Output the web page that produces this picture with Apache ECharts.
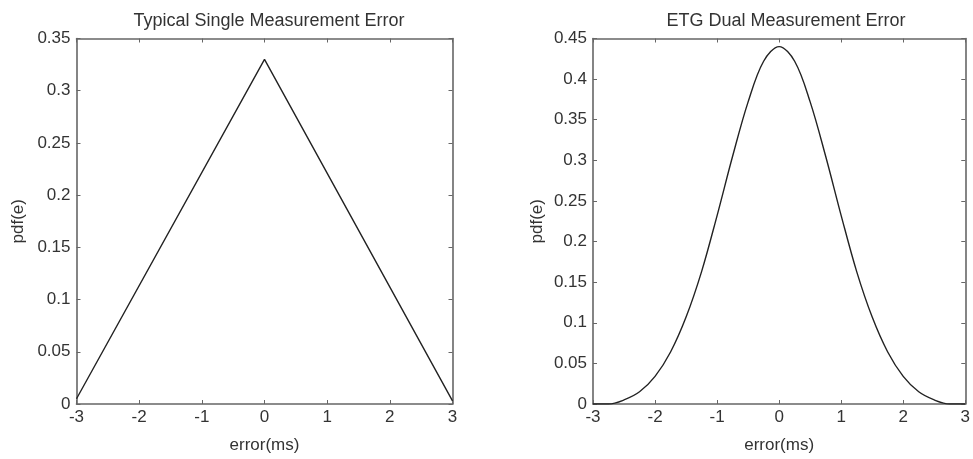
<!DOCTYPE html>
<html>
<head>
<meta charset="utf-8">
<script src="https://cdn.jsdelivr.net/npm/echarts@6/dist/echarts.min.js"></script>
<style>
html,body{margin:0;padding:0;background:#fff;}
#c{width:973px;height:459px;}
</style>
</head>
<body>
<div id="c"></div>
<script>
// Left chart: Typical Single Measurement Error
const singleX = [-3, 0, 3];
const singleY = [0.005, 0.33, 0.003];
// Right chart: ETG Dual Measurement Error
const dualX = [-3, -2.75, -2.5, -2.25, -2, -1.75, -1.5, -1.25, -1, -0.75, -0.5, -0.25, 0,
               0.25, 0.5, 0.75, 1, 1.25, 1.5, 1.75, 2, 2.25, 2.5, 2.75, 3];
const dualY = [0, 0, 0.005, 0.015, 0.034, 0.064, 0.107, 0.163, 0.232, 0.305, 0.372, 0.422, 0.44,
               0.422, 0.372, 0.305, 0.232, 0.163, 0.107, 0.064, 0.034, 0.015, 0.005, 0, 0];
const titles = ['Typical Single Measurement Error', 'ETG Dual Measurement Error'];
const xTicks = [-3, -2, -1, 0, 1, 2, 3];
const yMaxLeft = 0.35, yMaxRight = 0.45, yStep = 0.05;
const xLabel = 'error(ms)', yLabel = 'pdf(e)';

const FONT = 'Liberation Sans, Arial, sans-serif';
const TXT = '#333';
const AX = '#666';

function pair(a, b) { return a.map((v, i) => [v, b[i]]); }

const grids = [
  {left: 76.5, top: 38.5, width: 376, height: 370.5},
  {left: 593, top: 38.5, width: 377, height: 370.5}
];

function xAx(gi, pos, labels) {
  return {
    type: 'value', gridIndex: gi, position: pos,
    min: xTicks[0], max: xTicks[xTicks.length - 1], interval: 1,
    axisLine: {show: true, onZero: false, lineStyle: {color: AX, width: 1.6}},
    axisTick: {show: true, inside: true, length: 4, lineStyle: {color: AX}},
    axisLabel: {show: labels, color: TXT, fontSize: 17, fontFamily: FONT, margin: 5},
    splitLine: {show: false},
    name: labels ? xLabel : '', nameLocation: 'middle', nameGap: 33,
    nameTextStyle: {color: TXT, fontSize: 17, fontFamily: FONT}
  };
}
function yAx(gi, pos, labels, max) {
  return {
    type: 'value', gridIndex: gi, position: pos,
    min: 0, max: max, interval: yStep,
    axisLine: {show: true, onZero: false, lineStyle: {color: AX, width: 1.6}},
    axisTick: {show: true, inside: true, length: 4, lineStyle: {color: AX}},
    axisLabel: {show: labels, color: TXT, fontSize: 17, fontFamily: FONT, margin: 6},
    splitLine: {show: false},
    name: labels ? yLabel : '', nameLocation: 'middle', nameRotate: 90,
    nameGap: pos === 'left' && gi === 0 ? 50 : 47,
    nameTextStyle: {color: TXT, fontSize: 17, fontFamily: FONT}
  };
}

const chart = echarts.init(document.getElementById('c'), null, {renderer: 'canvas'});
chart.setOption({
  animation: false,
  backgroundColor: '#fff',
  title: [
    {text: titles[0], left: 264, top: 7, textAlign: 'center',
     textStyle: {color: TXT, fontSize: 18, fontWeight: 'normal', fontFamily: FONT}},
    {text: titles[1], left: 781, top: 7, textAlign: 'center',
     textStyle: {color: TXT, fontSize: 18, fontWeight: 'normal', fontFamily: FONT}}
  ],
  grid: grids,
  xAxis: [xAx(0, 'bottom', true), xAx(0, 'top', false), xAx(1, 'bottom', true), xAx(1, 'top', false)],
  yAxis: [yAx(0, 'left', true, yMaxLeft), yAx(0, 'right', false, yMaxLeft),
          yAx(1, 'left', true, yMaxRight), yAx(1, 'right', false, yMaxRight)],
  series: [
    {type: 'line', xAxisIndex: 0, yAxisIndex: 0, data: pair(singleX, singleY),
     showSymbol: false, lineStyle: {color: '#222', width: 1.4}},
    {type: 'line', xAxisIndex: 2, yAxisIndex: 2, data: pair(dualX, dualY),
     showSymbol: false, smooth: 0.35, lineStyle: {color: '#222', width: 1.4}}
  ]
});
</script>
</body>
</html>
